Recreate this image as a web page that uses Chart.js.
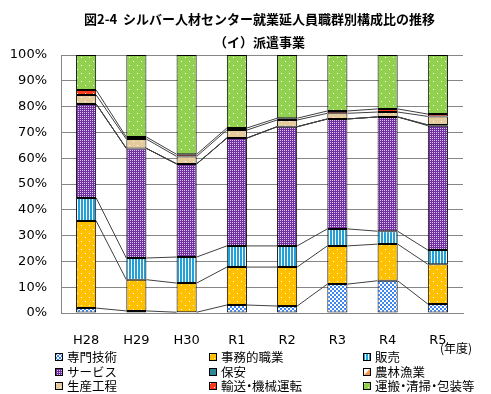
<!DOCTYPE html>
<html>
<head>
<meta charset="utf-8">
<script src="https://cdn.jsdelivr.net/npm/chart.js@4/dist/chart.umd.min.js"></script>
<style>
  body { margin: 0; background: #fff; }
  #wrap { position: relative; width: 491px; height: 394px; background: #fff; overflow: hidden; }
  #wrap canvas#chart { position: absolute; left: 0; top: 0; }
  .ttl { position: absolute; left: 14px; width: 491px; text-align: center;
         font-family: "Noto Sans CJK JP", sans-serif; font-weight: bold; font-size: 13px; line-height: 16px; color: #000; }
  .nendo { position: absolute; left: 440px; top: 340px; font-family: "Noto Sans CJK JP", sans-serif; font-size: 12px; line-height: 16px; }
  .lg { position: absolute; font-family: "Noto Sans CJK JP", sans-serif; font-size: 12.5px; line-height: 14px; white-space: nowrap; }
  .lg canvas { position: absolute; left: 0; top: 3px; }
  .lg span.t { position: absolute; left: 12px; top: 0; }
  .dot { display: inline-block; width: 6px; text-indent: -3px; overflow: visible; }
</style>
</head>
<body>
<div id="wrap">
  <canvas id="chart" width="491" height="394"></canvas>
  <div class="ttl" style="top:11px">図2-4&nbsp;&nbsp;シルバー人材センター就業延人員職群別構成比の推移</div>
  <div class="ttl" style="top:34px">（イ）派遣事業</div>
  <div class="nendo">(年度)</div>
  <div id="legend"></div>
</div>
<script>
// ===== Data (percent) =====
var years   = ['H28', 'H29', 'H30', 'R1', 'R2', 'R3', 'R4', 'R5'];
var yTicks  = [0, 10, 20, 30, 40, 50, 60, 70, 80, 90, 100];
var senmon  = [1.9, 0.8, 0.3, 3.1, 2.7, 11.2, 12.5, 3.5];
var jimu    = [33.8, 12.1, 11.3, 14.7, 15.1, 14.8, 14.2, 15.4];
var hanbai  = [8.9, 8.4, 10.1, 8.2, 8.2, 6.6, 5.0, 5.5];
var service = [36.4, 42.5, 36.1, 41.8, 46.2, 42.6, 44.3, 48.2];
var hoan    = [0, 0, 0, 0, 0, 0, 0, 0.3];
var nourin  = [0, 0, 0, 0, 0, 0, 0, 0];
var seisan  = [3.5, 3.6, 2.9, 3.1, 2.6, 2.2, 1.9, 3.3];
var yusou   = [1.9, 0.8, 0.8, 0.8, 0.7, 0.9, 1.2, 0.9];
var unpan   = [13.6, 31.8, 38.5, 28.3, 24.5, 21.7, 20.9, 22.9];

var names = ['専門技術', '事務的職業', '販売', 'サービス', '保安', '農林漁業', '生産工程', '輸送・機械運転', '運搬・清掃・包装等'];

// ===== Patterns =====
function tile(w, h, draw) {
  var c = document.createElement('canvas');
  c.width = w; c.height = h;
  var g = c.getContext('2d');
  draw(g);
  return c;
}
function dots(color) {
  return tile(8, 8, function(g) {
    g.fillStyle = color; g.fillRect(0, 0, 8, 8);
    g.fillStyle = '#fff';
    g.fillRect(1, 1, 1, 1); g.fillRect(5, 5, 1, 1);
  });
}
function checker(color, s) {
  return tile(s * 2, s * 2, function(g) {
    g.fillStyle = '#fff'; g.fillRect(0, 0, s * 2, s * 2);
    g.fillStyle = color;
    g.fillRect(0, 0, s, s); g.fillRect(s, s, s, s);
  });
}
function fineDots(color, dot) {
  return tile(2, 2, function(g) {
    g.fillStyle = color; g.fillRect(0, 0, 2, 2);
    g.fillStyle = dot; g.fillRect(0, 0, 1, 1);
  });
}
function vstripe(color) {
  return tile(3, 3, function(g) {
    g.fillStyle = '#fff'; g.fillRect(0, 0, 3, 3);
    g.fillStyle = color; g.fillRect(0, 0, 2, 3);
  });
}
function solid(color) {
  return tile(2, 2, function(g) { g.fillStyle = color; g.fillRect(0, 0, 2, 2); });
}
function half(color) {
  return tile(8, 8, function(g) {
    g.fillStyle = '#fff'; g.fillRect(0, 0, 8, 8);
    g.fillStyle = color;
    g.beginPath(); g.moveTo(8, 0); g.lineTo(8, 8); g.lineTo(0, 8); g.closePath(); g.fill();
  });
}

var tiles = [
  checker('#3d85f0', 2),
  dots('#ffc000'),
  vstripe('#22a0d8'),
  fineDots('#7030a0', '#d9c6ec'),
  solid('#31849b'),
  half('#f79646'),
  dots('#e6cc9c'),
  dots('#ff3a1a'),
  dots('#92d050')
];

var ctx = document.getElementById('chart');
var c2d = ctx.getContext('2d');
var fills = tiles.map(function(t) { return c2d.createPattern(t, 'repeat'); });

var series = [senmon, jimu, hanbai, service, hoan, nourin, seisan, yusou, unpan];
var datasets = series.map(function(vals, i) {
  return {
    label: names[i],
    data: vals,
    backgroundColor: fills[i],
    borderColor: '#000',
    borderWidth: 1,
    borderSkipped: false,
    barPercentage: 0.4,
    categoryPercentage: 1.0
  };
});

// Excel style series lines between bar tops
var seriesLines = {
  id: 'seriesLines',
  afterDatasetsDraw: function(chart) {
    var g = chart.ctx;
    g.save();
    g.strokeStyle = '#404040';
    g.lineWidth = 1;
    for (var d = 0; d < chart.data.datasets.length - 1; d++) {
      var bars = chart.getDatasetMeta(d).data;
      for (var i = 0; i < bars.length - 1; i++) {
        var a = bars[i], b = bars[i + 1];
        g.beginPath();
        g.moveTo(a.x + a.width / 2, a.y);
        g.lineTo(b.x - b.width / 2, b.y);
        g.stroke();
      }
    }
    g.restore();
  }
};

new Chart(ctx, {
  type: 'bar',
  data: { labels: years, datasets: datasets },
  plugins: [seriesLines],
  options: {
    responsive: false,
    animation: false,
    layout: { padding: { top: 55, right: 28, bottom: 41, left: 0 } },
    plugins: { legend: { display: false }, title: { display: false }, tooltip: { enabled: false } },
    scales: {
      x: {
        stacked: true,
        grid: { display: false },
        border: { display: true, color: '#868686' },
        ticks: { color: '#000', padding: 12, font: { family: 'DejaVu Sans', size: 13 } },
        afterFit: function(s) { s.height = 40; }
      },
      y: {
        stacked: true,
        min: yTicks[0],
        max: yTicks[yTicks.length - 1],
        afterBuildTicks: function(s) { s.ticks = yTicks.map(function(v) { return { value: v }; }); },
        grid: { color: '#868686', drawTicks: false },
        border: { display: true, color: '#868686' },
        ticks: {
          color: '#000', padding: 14, font: { family: 'DejaVu Sans', size: 13 },
          callback: function(v) { return v + '%'; }
        },
        afterFit: function(s) { s.width = 61; }
      }
    }
  }
});

// ===== Legend (3 columns) =====
var legend = document.getElementById('legend');
var colX = [55, 209, 363];
var rowY = [350, 365, 379];
names.forEach(function(n, i) {
  var item = document.createElement('div');
  item.className = 'lg';
  item.style.left = colX[i % 3] + 'px';
  item.style.top = rowY[Math.floor(i / 3)] + 'px';
  var sw = document.createElement('canvas');
  sw.width = 8; sw.height = 8;
  var g = sw.getContext('2d');
  g.fillStyle = g.createPattern(tiles[i], 'repeat');
  g.fillRect(0, 0, 8, 8);
  g.strokeStyle = '#000'; g.lineWidth = 1;
  g.strokeRect(0.5, 0.5, 7, 7);
  var t = document.createElement('span');
  t.className = 't';
  n.split('・').forEach(function(part, k) {
    if (k > 0) {
      var d = document.createElement('span');
      d.className = 'dot';
      d.textContent = '・';
      t.appendChild(d);
    }
    t.appendChild(document.createTextNode(part));
  });
  item.appendChild(sw);
  item.appendChild(t);
  legend.appendChild(item);
});
</script>
</body>
</html>
